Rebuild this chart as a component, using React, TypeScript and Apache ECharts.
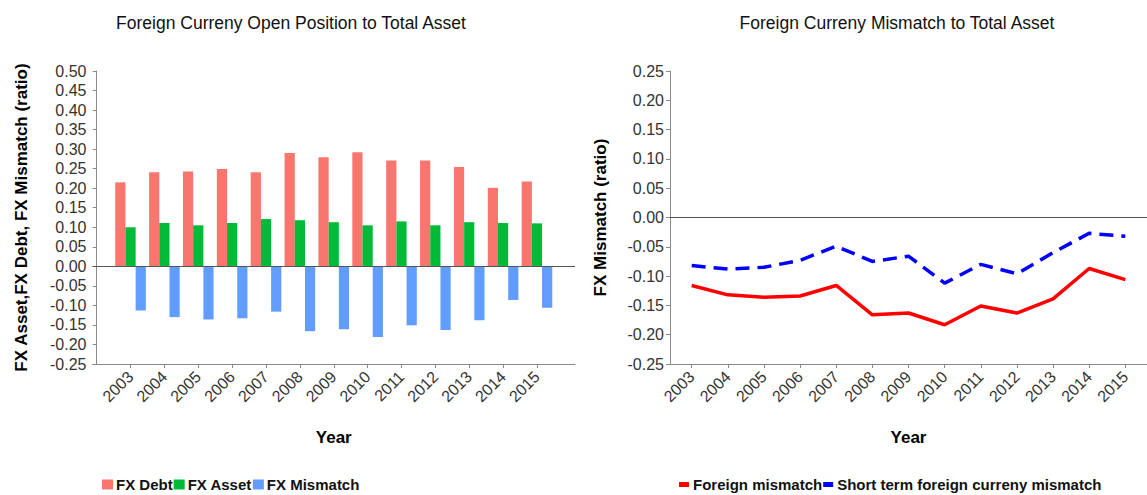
import React, { useEffect, useRef } from "react";
import * as echarts from "echarts";

const years = ["2003", "2004", "2005", "2006", "2007", "2008", "2009", "2010", "2011", "2012", "2013", "2014", "2015"];
const fxDebt = [0.215, 0.241, 0.243, 0.249, 0.241, 0.29, 0.279, 0.292, 0.271, 0.271, 0.254, 0.201, 0.217];
const fxAsset = [0.1, 0.111, 0.105, 0.111, 0.121, 0.118, 0.113, 0.105, 0.115, 0.105, 0.113, 0.111, 0.11];
const fxMismatch = [-0.113, -0.13, -0.136, -0.133, -0.116, -0.166, -0.161, -0.181, -0.151, -0.163, -0.138, -0.086, -0.106];
const foreignMismatch = [-0.116, -0.132, -0.136, -0.134, -0.116, -0.166, -0.163, -0.183, -0.151, -0.163, -0.139, -0.087, -0.106];
const shortTermMismatch = [-0.082, -0.088, -0.085, -0.073, -0.049, -0.075, -0.066, -0.112, -0.08, -0.096, -0.06, -0.027, -0.032];
const yTicksLeft = [-0.25, 0.5];
const yTicksRight = [-0.25, 0.25];

const FONT = "'Liberation Sans', Arial, sans-serif";

export default function App() {
  const ref = useRef<HTMLDivElement>(null);
  useEffect(() => {
    document.body.style.margin = "0";
    const chart = echarts.init(ref.current!, null, { renderer: "svg" });
    const idx = years.map((_, i) => i + 1);
    const pair = (arr: number[]) => arr.map((v, i) => [i + 1, v]);
    const axisLine = { lineStyle: { color: "#8a8a8a", width: 1 } };
    const xAxisCommon = (gridIndex: number, min: number, max: number) => ({
      type: "value",
      gridIndex,
      min,
      max,
      splitLine: { show: false },
      axisLine: { show: true, onZero: false, ...axisLine },
      axisTick: { show: true, length: 4, customValues: idx, lineStyle: { color: "#8a8a8a" } },
      axisLabel: {
        customValues: idx,
        rotate: 45,
        fontSize: 16,
        color: "#333",
        fontFamily: FONT,
        margin: 10,
        padding: [8, 0, 0, 0],
        formatter: (v: number) => years[Math.round(v) - 1] ?? "",
      },
      name: "Year",
      nameLocation: "middle",
      nameGap: 65,
      nameTextStyle: { fontSize: 17, fontWeight: "bold", color: "#000", fontFamily: FONT },
    });
    const yAxisCommon = (gridIndex: number, ticks: number[], name: string, nameGap: number) => ({
      type: "value",
      gridIndex,
      min: ticks[0],
      max: ticks[1],
      interval: 0.05,
      splitLine: { show: false },
      axisLine: { show: true, ...axisLine },
      axisTick: { show: true, length: 4, lineStyle: { color: "#8a8a8a" } },
      axisLabel: {
        fontSize: 16,
        color: "#333",
        fontFamily: FONT,
        margin: 6,
        formatter: (v: number) => v.toFixed(2),
      },
      name,
      nameLocation: "middle",
      nameGap,
      nameTextStyle: { fontSize: 17, fontWeight: "bold", color: "#000", fontFamily: FONT },
    });
    const zeroLine = {
      silent: true,
      symbol: "none",
      label: { show: false },
      lineStyle: { color: "#555", width: 1, type: "solid" },
      data: [{ yAxis: 0 }],
    };
    chart.setOption({
      animation: false,
      textStyle: { fontFamily: FONT },
      graphic: [
        {
          type: "text",
          x: 291,
          y: 23,
          style: {
            text: "Foreign Curreny Open Position to Total Asset",
            font: `17.5px ${FONT}`,
            fill: "#111",
            textAlign: "center",
            textVerticalAlign: "middle",
          },
        },
        {
          type: "text",
          x: 897,
          y: 23,
          style: {
            text: "Foreign Curreny Mismatch to Total Asset",
            font: `17.5px ${FONT}`,
            fill: "#111",
            textAlign: "center",
            textVerticalAlign: "middle",
          },
        },
      ],
      grid: [
        { left: 92.5, top: 71, width: 482.5, height: 293 },
        { left: 670, top: 71, width: 479.6, height: 293 },
      ],
      legend: [
        {
          data: ["FX Debt", "FX Asset", "FX Mismatch"],
          left: 102,
          top: 477,
          padding: 0,
          icon: "rect",
          itemWidth: 11,
          itemHeight: 10,
          itemGap: 1,
          textStyle: { fontSize: 15, fontWeight: "bold", color: "#111", fontFamily: FONT, padding: [0, 0, 0, -2] },
        },
        {
          data: ["Foreign mismatch", "Short term foreign curreny mismatch"],
          left: 679,
          top: 477,
          padding: 0,
          icon: "rect",
          itemWidth: 10,
          itemHeight: 5,
          itemGap: 1,
          itemStyle: { borderWidth: 0 },
          lineStyle: { width: 0 },
          textStyle: { fontSize: 15, fontWeight: "bold", color: "#111", fontFamily: FONT, padding: [0, 0, 0, -1] },
        },
      ],
      xAxis: [xAxisCommon(0, -0.123, 14.123), xAxisCommon(1, 0.4, 13.6)],
      yAxis: [
        yAxisCommon(0, yTicksLeft, "FX Asset,FX Debt, FX Mismatch (ratio)", 63),
        yAxisCommon(1, yTicksRight, "FX Mismatch (ratio)", 61),
      ],
      series: [
        {
          name: "FX Debt",
          type: "bar",
          xAxisIndex: 0,
          yAxisIndex: 0,
          data: pair(fxDebt),
          barWidth: 10.2,
          barGap: "0%",
          itemStyle: { color: "#F8766D" },
          markLine: zeroLine,
        },
        {
          name: "FX Asset",
          type: "bar",
          xAxisIndex: 0,
          yAxisIndex: 0,
          data: pair(fxAsset),
          barWidth: 10.2,
          barGap: "0%",
          itemStyle: { color: "#00BA38" },
        },
        {
          name: "FX Mismatch",
          type: "bar",
          xAxisIndex: 0,
          yAxisIndex: 0,
          data: pair(fxMismatch),
          barWidth: 10.2,
          barGap: "0%",
          itemStyle: { color: "#619CFF" },
        },
        {
          name: "Foreign mismatch",
          type: "line",
          xAxisIndex: 1,
          yAxisIndex: 1,
          data: pair(foreignMismatch),
          showSymbol: false,
          symbol: "none",
          color: "#FF0000",
          lineStyle: { color: "#FF0000", width: 3.5 },
          markLine: zeroLine,
        },
        {
          name: "Short term foreign curreny mismatch",
          type: "line",
          xAxisIndex: 1,
          yAxisIndex: 1,
          data: pair(shortTermMismatch),
          showSymbol: false,
          symbol: "none",
          color: "#0000FF",
          lineStyle: { color: "#0000FF", width: 3.5, type: [14, 8] },
        },
      ],
    });
    return () => chart.dispose();
  }, []);
  return <div ref={ref} style={{ width: 1147, height: 495 }} />;
}
